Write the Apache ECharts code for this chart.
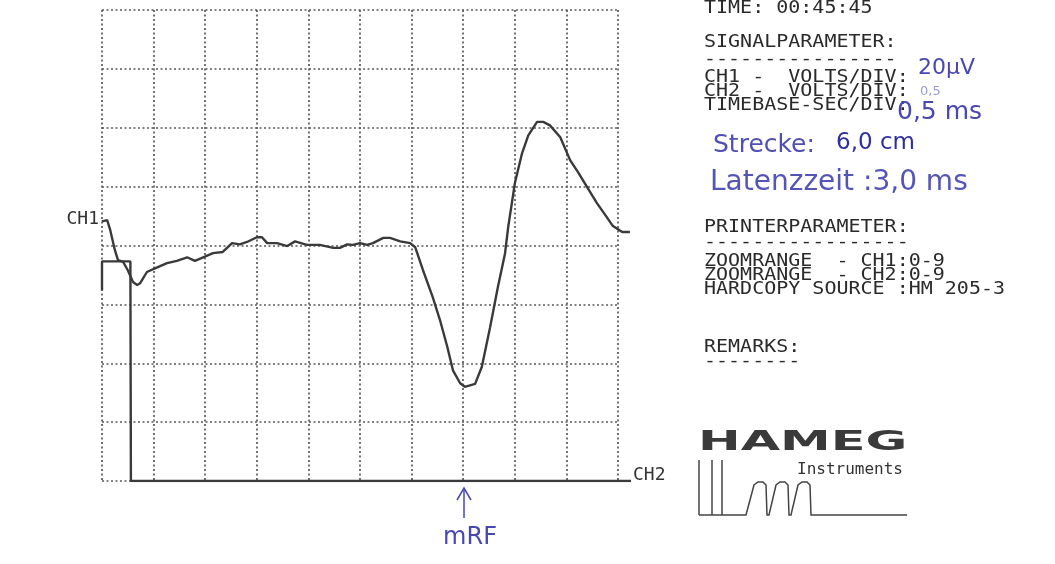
<!DOCTYPE html>
<html>
<head>
<meta charset="utf-8">
<title>HAMEG HM 205-3</title>
<script src="https://cdn.jsdelivr.net/npm/echarts/dist/echarts.min.js"></script>
<style>
  html, body { margin: 0; padding: 0; background: #fff; }
  #main { width: 1055px; height: 564px; }
</style>
</head>
<body>
<div id="main"></div>
<script>
// CH1 Kurve: Zeit in Divisions (0-10), Spannung in Divisions (0-8)
var ch1Time = [0.00,0.10,0.16,0.25,0.31,0.41,0.50,0.60,0.68,0.74,0.87,1.07,1.26,1.45,1.65,1.80,1.96,2.15,2.34,2.52,2.67,2.81,3.00,3.10,3.20,3.39,3.59,3.74,3.97,4.22,4.48,4.61,4.75,4.86,5.00,5.14,5.25,5.45,5.58,5.78,5.97,6.07,6.22,6.41,6.55,6.69,6.80,6.94,7.03,7.23,7.36,7.52,7.67,7.81,7.87,8.00,8.14,8.26,8.43,8.55,8.68,8.88,9.07,9.22,9.40,9.59,9.75,9.90,10.08,10.23];
var ch1Volt = [4.41,4.43,4.26,3.92,3.75,3.72,3.58,3.38,3.33,3.36,3.55,3.63,3.70,3.74,3.80,3.74,3.80,3.87,3.89,4.04,4.02,4.06,4.14,4.14,4.04,4.04,3.99,4.07,4.01,4.01,3.96,3.96,4.02,4.01,4.04,4.01,4.04,4.13,4.13,4.07,4.04,3.97,3.58,3.12,2.73,2.28,1.88,1.66,1.60,1.65,1.94,2.61,3.29,3.87,4.31,5.06,5.57,5.87,6.10,6.10,6.04,5.84,5.45,5.25,4.99,4.72,4.52,4.33,4.23,4.23];
// CH2 (Reiz)
var ch2Time = [0.00,0.00,0.55,0.56,10.25];
var ch2Volt = [3.24,3.73,3.73,0.00,0.00];

// Drucker-Text rechts
var infoText = ['TIME: 00:45:45', 'SIGNALPARAMETER:', '----------------',
  'CH1 -  VOLTS/DIV:', 'CH2 -  VOLTS/DIV:', 'TIMEBASE-SEC/DIV:',
  'PRINTERPARAMETER:', '-----------------',
  'ZOOMRANGE  - CH1:0-9', 'ZOOMRANGE  - CH2:0-9', 'HARDCOPY SOURCE :HM 205-3',
  'REMARKS:', '--------'];
var infoY = [8, 42, 59, 77, 91, 105, 227, 242, 261, 275, 289, 347, 361];

// handschriftliche Notizen
var notes = [
  {text: '20\u00b5V', x: 918, y: 68, size: 22, color: '#4848b0'},
  {text: '0,5', x: 920, y: 92, size: 13, color: '#9a9ad0'},
  {text: '0,5 ms', x: 897, y: 112, size: 25, color: '#4848b0'},
  {text: 'Strecke:', x: 713, y: 145, size: 25, color: '#5050b4'},
  {text: '6,0 cm', x: 836, y: 143, size: 23, color: '#2e2ea0'},
  {text: 'Latenzzeit :3,0 ms', x: 710, y: 183, size: 28, color: '#5555b8'},
  {text: 'mRF', x: 470, y: 538, size: 24, color: '#4848b0', align: 'center'}
];

function pairs(xs, ys) {
  var out = [];
  for (var i = 0; i < xs.length; i++) out.push([xs[i], ys[i]]);
  return out;
}

var mono = '"DejaVu Sans Mono", monospace';
var graphics = [];

infoText.forEach(function (t, i) {
  graphics.push({
    type: 'text', x: 704, y: infoY[i], scaleY: 0.9,
    style: { text: t, font: '20px ' + mono, fill: '#2a2a2a', align: 'left', verticalAlign: 'middle' }
  });
});

notes.forEach(function (n) {
  graphics.push({
    type: 'text', x: n.x, y: n.y,
    style: { text: n.text, font: n.size + 'px "DejaVu Sans", sans-serif', fill: n.color,
      align: n.align || 'left', verticalAlign: 'middle' }
  });
});

// Kanal-Beschriftung
graphics.push({ type: 'text', x: 99, y: 219, style: { text: 'CH1', font: '18px ' + mono, fill: '#333', align: 'right', verticalAlign: 'middle' } });
graphics.push({ type: 'text', x: 633, y: 475, style: { text: 'CH2', font: '18px ' + mono, fill: '#333', align: 'left', verticalAlign: 'middle' } });

// Pfeil unter der 7. Division
graphics.push({ type: 'polyline', shape: { points: [[464, 518], [464, 488]] }, style: { stroke: '#4848b0', lineWidth: 1.5, fill: null } });
graphics.push({ type: 'polyline', shape: { points: [[457, 500], [464, 488], [471, 500]] }, style: { stroke: '#4848b0', lineWidth: 1.5, fill: null } });

// HAMEG Logo
graphics.push({ type: 'text', x: 698, y: 443, scaleX: 1.96,
  style: { text: 'HAMEG', font: 'bold 26px "DejaVu Sans", sans-serif', fill: '#3a3a3a', align: 'left', verticalAlign: 'middle' } });
graphics.push({ type: 'text', x: 797, y: 470,
  style: { text: 'Instruments', font: '16px ' + mono, fill: '#333', align: 'left', verticalAlign: 'middle' } });
var logoLines = [
  [[699, 460], [699, 515]],
  [[712, 460], [712, 515]],
  [[722, 460], [722, 515]],
  [[699, 515], [746, 515], [754, 485], [758, 482], [763, 482], [766, 485], [767, 515],
   [769, 515], [776, 485], [780, 482], [785, 482], [788, 485], [789, 515],
   [791, 515], [798, 485], [802, 482], [807, 482], [810, 485], [811, 515], [907, 515]]
];
logoLines.forEach(function (pts) {
  graphics.push({ type: 'polyline', shape: { points: pts }, style: { stroke: '#444', lineWidth: 1.5, fill: null } });
});

var chart = echarts.init(document.getElementById('main'));
var dots = { show: true, lineStyle: { type: [2, 2.5], color: '#5a5a5a', width: 1.7 } };
var hidden = { axisLine: { show: false }, axisTick: { show: false }, axisLabel: { show: false } };
var option = {
  backgroundColor: '#fff',
  animation: false,
  // grid 0: gepunktetes Raster 10 x 8, grid 1: Kurven (laufen rechts etwas ueber)
  grid: [
    { left: 102, top: 10, width: 516, height: 471 },
    { left: 102, top: 10, width: 529, height: 471 }
  ],
  xAxis: [
    Object.assign({ type: 'value', gridIndex: 0, min: 0, max: 10, interval: 1, splitLine: dots }, hidden),
    Object.assign({ type: 'value', gridIndex: 1, min: 0, max: 10.25, interval: 1, splitLine: { show: false } }, hidden)
  ],
  yAxis: [
    Object.assign({ type: 'value', gridIndex: 0, min: 0, max: 8, interval: 1, splitLine: dots }, hidden),
    Object.assign({ type: 'value', gridIndex: 1, min: 0, max: 8, interval: 1, splitLine: { show: false } }, hidden)
  ],
  series: [
    {
      name: 'CH1', type: 'line', xAxisIndex: 1, yAxisIndex: 1,
      data: pairs(ch1Time, ch1Volt),
      showSymbol: false, z: 3,
      lineStyle: { color: '#3a3a3a', width: 2.4 }
    },
    {
      name: 'CH2', type: 'line', xAxisIndex: 1, yAxisIndex: 1,
      data: pairs(ch2Time, ch2Volt),
      showSymbol: false, z: 3,
      lineStyle: { color: '#3a3a3a', width: 2.4 }
    }
  ],
  graphic: graphics
};
chart.setOption(option);
</script>
</body>
</html>
